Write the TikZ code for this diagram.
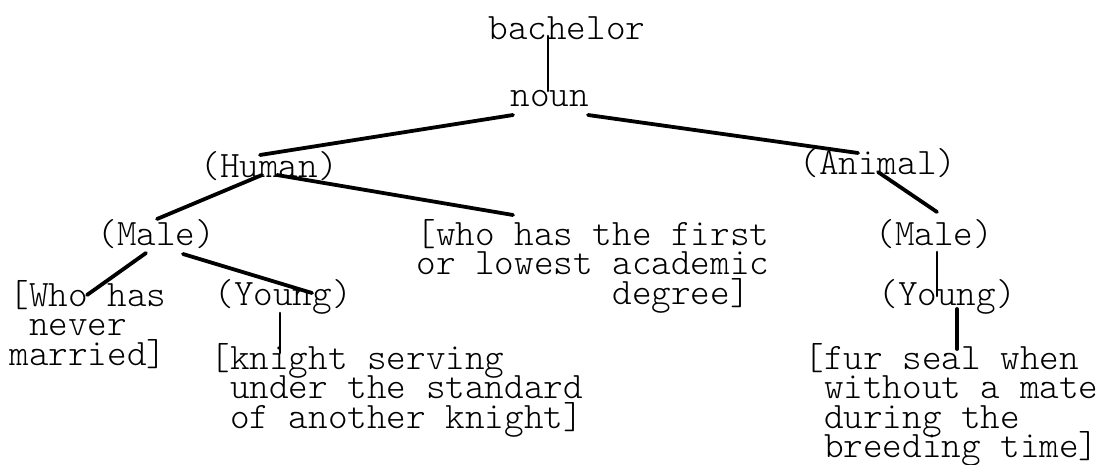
\documentclass[tikz,border=0pt]{standalone}
\usepackage{fontspec}
\newfontfamily\glossfont{lmmonolt10-regular.otf}
% stacked lines of a gloss, baseline of the block = baseline of its first line
\newcommand{\glossblock}[1]{\vtop{\lineskiplimit=-\maxdimen\baselineskip=14.75pt #1}}
\newcommand{\gline}[1]{\hbox{#1}}
\newcommand{\lead}[1]{\hphantom{#1}}
\begin{document}
\begin{tikzpicture}[x=0.5pt,y=-0.5pt,
  word/.style={inner sep=0pt, anchor=base west,
    font=\glossfont\fontsize{18.67pt}{14.75pt}\selectfont},
  branch/.style={line width=1.9pt, line cap=round},
  stem/.style={line width=1.3pt, line cap=round}]
\useasboundingbox (0,0) rectangle (1096,465);

% tree labels
\node[word] (bachelor) at (488,40)  {bachelor};
\node[word] (noun)     at (510,106) {noun};
\node[word] (human)    at (200,177) {(Human)};
\node[word] (animal)   at (799,174) {(Animal)};
\node[word] (maleH)    at (97,245)  {(Male)};
\node[word] (degree)   at (416,245) {\glossblock{\gline{[who has the first}\gline{or lowest academic}\gline{\lead{xxxxxxxxxx}degree]}}};
\node[word] (maleA)    at (875,245) {(Male)};
\node[word] (never)    at (9,306)   {\glossblock{\gline{[Who has}\gline{\lead{x}never}\gline{married]}}};
\node[word] (youngH)   at (214,305) {(Young)};
\node[word] (youngA)   at (878,305) {(Young)};
\node[word] (knight)   at (210,369) {\glossblock{\gline{[knight serving}\gline{\lead{x}under the standard}\gline{\lead{x}of another knight]}}};
\node[word] (seal)     at (804,369) {\glossblock{\gline{[fur seal when}\gline{\lead{x}without a mate}\gline{\lead{x}during the}\gline{\lead{x}breeding time]}}};

% connectors
\draw[stem]   ([shift={(60,-4)}]bachelor.base west) -- ([shift={(38,-15)}]noun.base west);
\draw[branch] ([shift={(3,9)}]noun.base west)       -- ([shift={(60,-22)}]human.base west);
\draw[branch] ([shift={(78,9)}]noun.base west)      -- ([shift={(59,-21)}]animal.base west);
\draw[branch] ([shift={(62,-2)}]human.base west)    -- ([shift={(60,-26)}]maleH.base west);
\draw[branch] ([shift={(77,-2)}]human.base west)    -- ([shift={(97,-30)}]degree.base west);
\draw[branch] ([shift={(79,-2)}]animal.base west)   -- ([shift={(62,-33)}]maleA.base west);
\draw[branch] ([shift={(49,8)}]maleH.base west)     -- ([shift={(78,-11)}]never.base west);
\draw[branch] ([shift={(86,9)}]maleH.base west)     -- ([shift={(98,-12)}]youngH.base west);
\draw[stem]   ([shift={(62,7)}]maleA.base west)     -- ([shift={(59,-9)}]youngA.base west);
\draw[stem]   ([shift={(66,8)}]youngH.base west)    -- ([shift={(70,-16)}]knight.base west);
\draw[branch] ([shift={(79,4)}]youngA.base west)    -- ([shift={(153,-20)}]seal.base west);
\end{tikzpicture}
\end{document}
